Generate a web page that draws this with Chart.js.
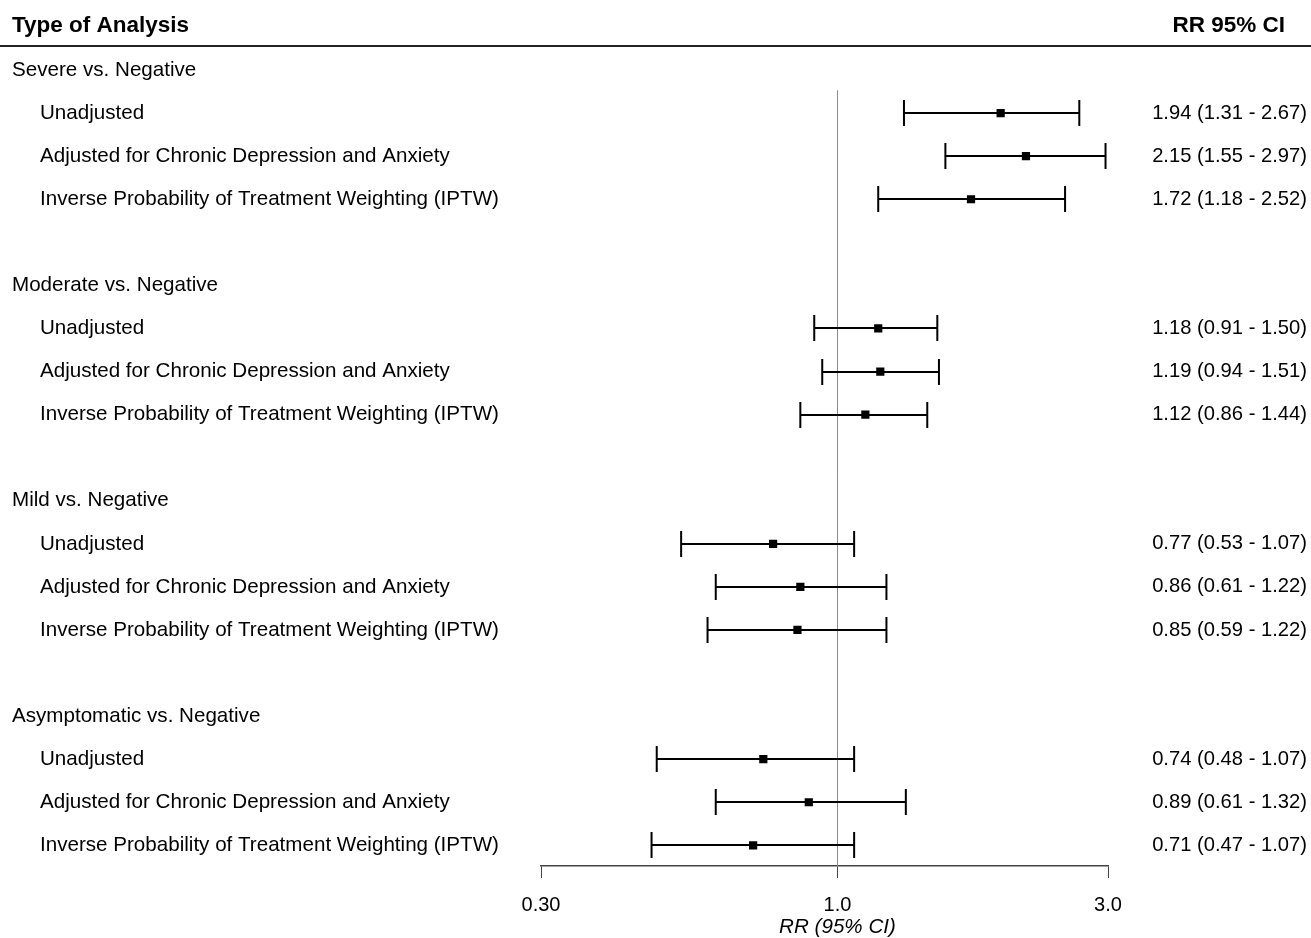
<!DOCTYPE html>
<html><head><meta charset="utf-8">
<script src="https://cdn.jsdelivr.net/npm/chart.js@4.4.1/dist/chart.umd.min.js"></script>
<style>html,body{margin:0;padding:0;background:#fff}#wrap{width:1311px;height:938px}</style>
</head><body><div id="wrap"><canvas id="c" width="1311" height="938"></canvas></div>
<script>
const groups = ['Severe vs. Negative','Moderate vs. Negative','Mild vs. Negative','Asymptomatic vs. Negative'];
const analyses = ['Unadjusted','Adjusted for Chronic Depression and Anxiety','Inverse Probability of Treatment Weighting (IPTW)'];
const estimates = [1.94,2.15,1.72, 1.18,1.19,1.12, 0.77,0.86,0.85, 0.74,0.89,0.71];
const lowers    = [1.31,1.55,1.18, 0.91,0.94,0.86, 0.53,0.61,0.59, 0.48,0.61,0.47];
const uppers    = [2.67,2.97,2.52, 1.50,1.51,1.44, 1.07,1.22,1.22, 1.07,1.32,1.07];
const tickValues = [0.3, 1.0, 3.0];
const tickLabels = ['0.30','1.0','3.0'];
const headerLeft = 'Type of Analysis';
const headerRight = 'RR 95% CI';
const axisTitle = 'RR (95% CI)';

const FONT = '"Liberation Sans", Arial, sans-serif';
const rows = [];
groups.forEach((g, gi) => {
  analyses.forEach((a, ai) => {
    const k = gi*3 + ai;
    rows.push({row: gi*5 + ai + 1, est: estimates[k], lo: lowers[k], hi: uppers[k], label: a});
  });
});
const points = rows.map(r => ({x: r.est, y: r.row}));

const forestPlugin = {
  id: 'forest',
  beforeDatasetsDraw(chart) {
    const ctx = chart.ctx, xs = chart.scales.x, ys = chart.scales.y;
    ctx.save();
    ctx.strokeStyle = '#8c8c8c'; ctx.lineWidth = 1;
    const x1 = Math.round(xs.getPixelForValue(1)) + 0.5;
    ctx.beginPath(); ctx.moveTo(x1, ys.getPixelForValue(0.47)); ctx.lineTo(x1, chart.chartArea.bottom); ctx.stroke();
    ctx.strokeStyle = '#000'; ctx.lineWidth = 2;
    rows.forEach(r => {
      const y = Math.round(ys.getPixelForValue(r.row));
      const xl = xs.getPixelForValue(r.lo), xh = xs.getPixelForValue(r.hi);
      ctx.beginPath();
      ctx.moveTo(xl, y); ctx.lineTo(xh, y);
      ctx.moveTo(xl, y-13); ctx.lineTo(xl, y+13);
      ctx.moveTo(xh, y-13); ctx.lineTo(xh, y+13);
      ctx.stroke();
    });
    ctx.restore();
  },
  afterDraw(chart) {
    const ctx = chart.ctx, xs = chart.scales.x, ys = chart.scales.y;
    ctx.save();
    ctx.fillStyle = '#000';
    ctx.textBaseline = 'middle';
    ctx.font = 'bold 22.5px ' + FONT;
    ctx.textAlign = 'left';
    ctx.fillText(headerLeft, 12, 26);
    ctx.textAlign = 'right';
    ctx.fillText(headerRight, 1285, 26);
    ctx.strokeStyle = '#222'; ctx.lineWidth = 2;
    ctx.beginPath(); ctx.moveTo(0, 46); ctx.lineTo(1311, 46); ctx.stroke();
    ctx.font = '20.6px ' + FONT;
    ctx.textAlign = 'left';
    groups.forEach((g, gi) => ctx.fillText(g, 12, ys.getPixelForValue(gi*5)));
    rows.forEach(r => {
      const y = ys.getPixelForValue(r.row);
      ctx.font = '20.6px ' + FONT;
      ctx.textAlign = 'left';
      ctx.fillText(r.label, 40, y);
      ctx.font = '20.2px ' + FONT;
      ctx.textAlign = 'right';
      ctx.fillText(r.est.toFixed(2) + ' (' + r.lo.toFixed(2) + ' - ' + r.hi.toFixed(2) + ')', 1307, y);
    });
    // axis title, centred under the reference value 1.0
    ctx.font = 'italic 20.6px ' + FONT;
    ctx.textAlign = 'center';
    ctx.fillText(axisTitle, xs.getPixelForValue(1), 927);
    ctx.restore();
  }
};

new Chart(document.getElementById('c'), {
  type: 'scatter',
  data: { datasets: [{ data: points, pointStyle: 'rect', pointRadius: 5.8, pointHoverRadius: 5.8,
    backgroundColor: '#000', borderColor: '#000', borderWidth: 0 }] },
  options: {
    responsive: false, animation: false, devicePixelRatio: 1,
    layout: { padding: { left: 541, right: 203, top: 48.5, bottom: 0 } },
    plugins: { legend: { display: false }, tooltip: { enabled: false } },
    scales: {
      x: {
        type: 'logarithmic', min: 0.3, max: 3.0, position: 'bottom',
        afterBuildTicks: s => { s.ticks = tickValues.map(v => ({value: v})); },
        afterFit: s => { s.height = 72; },
        grid: { drawOnChartArea: false, color: '#444', tickLength: 12, tickColor: '#444' },
        border: { display: true, color: '#444', width: 1.5 },
        ticks: { color: '#000', font: { family: FONT, size: 20 }, padding: 15, maxRotation: 0, autoSkip: false,
          callback: (v, i) => tickLabels[i] },
        title: { display: false }
      },
      y: { type: 'linear', min: -0.5, max: 18.48, reverse: true, display: false }
    }
  },
  plugins: [forestPlugin]
});
</script></body></html>
